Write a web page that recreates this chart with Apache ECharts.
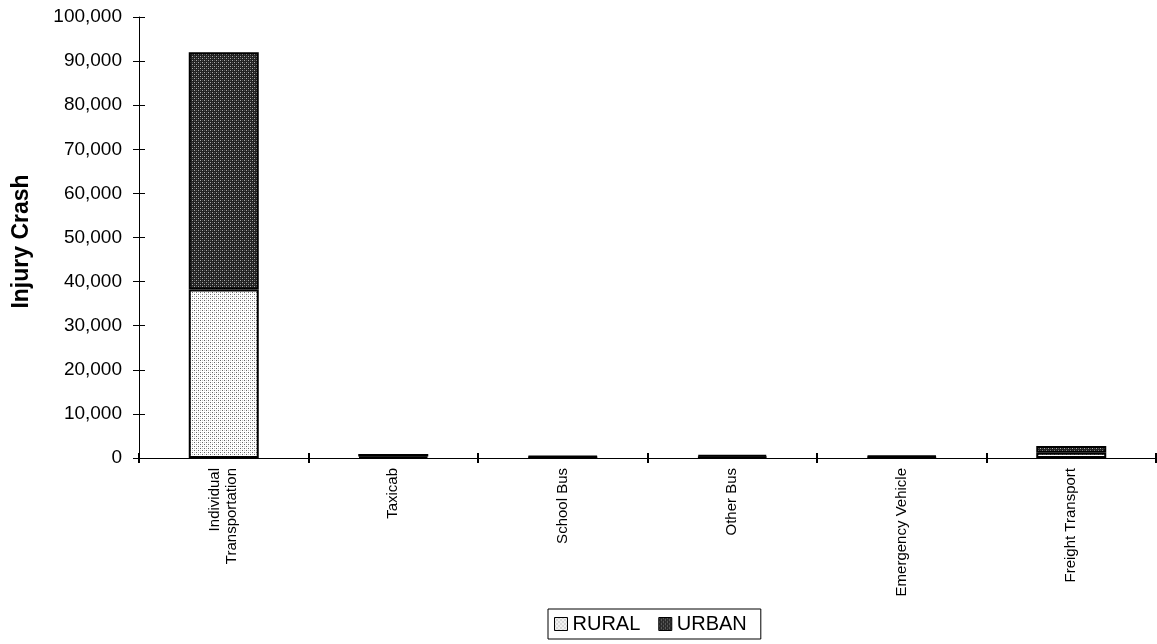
<!DOCTYPE html>
<html>
<head>
<meta charset="utf-8">
<script src="https://cdn.jsdelivr.net/npm/echarts@6/dist/echarts.min.js"></script>
<style>
html,body{margin:0;padding:0;background:#fff;}
#chart{width:1157px;height:644px;}
</style>
</head>
<body>
<div id="chart"></div>
<script>
const categories = ['Individual\nTransportation', 'Taxicab', 'School Bus', 'Other Bus', 'Emergency Vehicle', 'Freight Transport'];
const ruralValues = [38200, 350, 200, 300, 250, 1200];
const urbanValues = [53800, 550, 300, 450, 350, 1500];
const yTicks = { min: 0, max: 100000, interval: 10000 };
const seriesNames = ['RURAL', 'URBAN'];

function makePattern(bg, dot, dot2) {
  const c = document.createElement('canvas');
  c.width = 4; c.height = 4;
  const ctx = c.getContext('2d');
  ctx.fillStyle = bg; ctx.fillRect(0, 0, 4, 4);
  ctx.fillStyle = dot;
  ctx.fillRect(0, 0, 1, 1);
  ctx.fillRect(2, 2, 1, 1);
  if (dot2) {
    ctx.fillStyle = dot2;
    ctx.fillRect(2, 0, 1, 1);
    ctx.fillRect(0, 2, 1, 1);
  }
  return c;
}
const ruralPattern = { image: makePattern('#ffffff', '#666666', '#c8c8c8'), repeat: 'repeat' };
const urbanPattern = { image: makePattern('#222222', '#aaaaaa', '#555555'), repeat: 'repeat' };

const font = 'Liberation Sans, Arial, sans-serif';
const chart = echarts.init(document.getElementById('chart'), null, { renderer: 'canvas' });
chart.setOption({
  animation: false,
  backgroundColor: '#ffffff',
  grid: { left: 139, right: 1, top: 17, bottom: 186, containLabel: false },
  legend: {
    data: seriesNames,
    left: 548, top: 609,
    orient: 'horizontal',
    icon: 'rect',
    itemWidth: 13, itemHeight: 13, itemGap: 18,
    padding: [5, 14, 5, 6],
    borderColor: '#000', borderWidth: 1, borderRadius: 0,
    textStyle: { fontFamily: font, fontSize: 20, color: '#000', padding: [0, 0, 0, 0] },
    itemStyle: { borderColor: '#000', borderWidth: 1 }
  },
  xAxis: [{
    type: 'category',
    data: categories,
    position: 'bottom',
    axisLine: { show: true, lineStyle: { color: '#000', width: 1 } },
    axisTick: { show: true, length: 5, lineStyle: { color: '#000', width: 2 } },
    axisLabel: { rotate: 90, interval: 0, margin: 10, fontFamily: font, fontSize: 15, color: '#000', lineHeight: 17 },
    splitLine: { show: false }
  }, {
    type: 'category',
    data: categories,
    position: 'bottom',
    axisLine: { show: false },
    axisTick: { show: true, inside: true, length: 5, lineStyle: { color: '#000', width: 2 } },
    axisLabel: { show: false },
    splitLine: { show: false }
  }],
  yAxis: [{
    type: 'value',
    min: yTicks.min, max: yTicks.max, interval: yTicks.interval,
    name: 'Injury Crash',
    nameLocation: 'middle',
    nameGap: 106,
    nameTextStyle: { fontFamily: font, fontSize: 23, fontWeight: 'bold', color: '#000', padding: [0, 0, 0, -8] },
    axisLine: { show: true, lineStyle: { color: '#000', width: 1 } },
    axisTick: { show: true, length: 6, lineStyle: { color: '#000', width: 1 } },
    axisLabel: { margin: 17, fontFamily: font, fontSize: 19, color: '#000',
      formatter: v => v.toLocaleString('en-US') },
    splitLine: { show: false }
  }, {
    type: 'value',
    position: 'left',
    min: yTicks.min, max: yTicks.max, interval: yTicks.interval,
    axisLine: { show: false },
    axisTick: { show: true, inside: true, length: 6, lineStyle: { color: '#000', width: 1 } },
    axisLabel: { show: false },
    splitLine: { show: false }
  }],
  series: [{
    name: seriesNames[0],
    type: 'bar',
    stack: 'total',
    data: ruralValues,
    barWidth: 70,
    itemStyle: { color: ruralPattern, borderColor: '#000', borderWidth: 2 }
  }, {
    name: seriesNames[1],
    type: 'bar',
    stack: 'total',
    data: urbanValues,
    barWidth: 70,
    itemStyle: { color: urbanPattern, borderColor: '#000', borderWidth: 2 }
  }]
});
</script>
</body>
</html>
